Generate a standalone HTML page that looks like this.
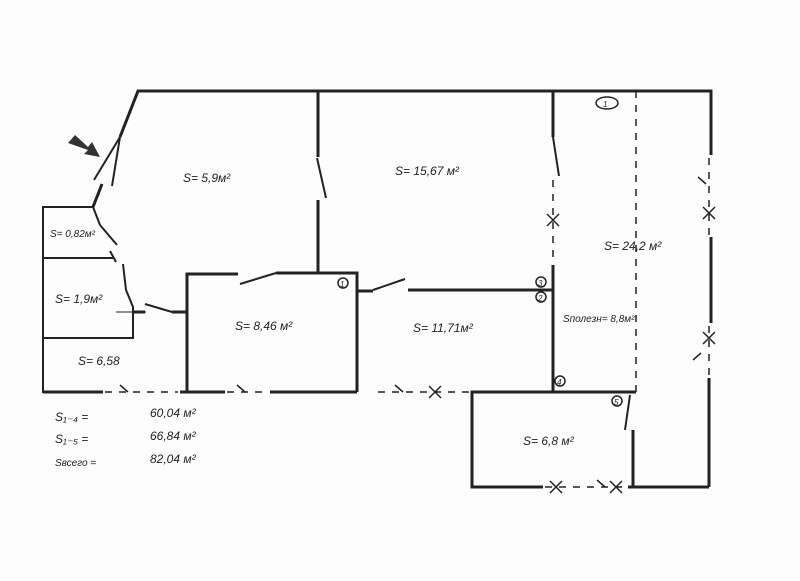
<!DOCTYPE html>
<html><head><meta charset="utf-8"><style>
html,body{margin:0;padding:0;background:#fff;}
svg{display:block}
text{font-family:"Liberation Sans",sans-serif;font-style:italic;fill:#222;}
</style></head><body>
<svg width="800" height="581" viewBox="0 0 800 581" xmlns="http://www.w3.org/2000/svg">
<rect width="800" height="581" fill="#fdfdfd"/>
<g stroke="#222" stroke-width="3" fill="none" stroke-linecap="butt">
<!-- top & outer -->
<polyline points="120,137 138,91 711,91 711,155"/>
<line x1="711" y1="237" x2="711" y2="323"/>
<line x1="709" y1="378" x2="709" y2="487"/>
<!-- entrance door -->
<line x1="120" y1="137" x2="94" y2="180" stroke-width="2"/>
<line x1="120" y1="137" x2="112" y2="186" stroke-width="2"/>
<line x1="102" y1="184" x2="93" y2="207"/>
<!-- left rooms -->
<polyline points="93,207 43,207 43,392 103,392" stroke-width="2"/>
<line x1="93" y1="207" x2="100" y2="225" stroke-width="2"/>
<line x1="100" y1="225" x2="117" y2="245" stroke-width="2"/>
<line x1="43" y1="258" x2="113" y2="258" stroke-width="2"/>
<line x1="110" y1="251" x2="116" y2="262" stroke-width="2"/>
<polyline points="123,264 126,290 133,307 133,338 43,338" stroke-width="2"/>
<line x1="116" y1="312" x2="146" y2="312" stroke-width="1"/>
<line x1="133" y1="312" x2="145" y2="312"/>
<line x1="145" y1="304" x2="172" y2="312" stroke-width="2"/>
<line x1="172" y1="312" x2="187" y2="312"/>
<!-- room 8.46 -->
<polyline points="238,274 187,274 187,392"/>
<line x1="240" y1="284" x2="276" y2="273" stroke-width="2"/>
<polyline points="276,273 357,273 357,392"/>
<line x1="318" y1="91" x2="318" y2="157"/>
<line x1="317" y1="158" x2="326" y2="198" stroke-width="2"/>
<line x1="318" y1="200" x2="318" y2="273"/>
<line x1="357" y1="291" x2="373" y2="291"/>
<line x1="373" y1="290" x2="405" y2="279" stroke-width="2"/>
<line x1="408" y1="290" x2="553" y2="290"/>
<!-- vertical 553 -->
<line x1="553" y1="91" x2="553" y2="137"/>
<line x1="553" y1="137" x2="559" y2="176" stroke-width="2"/>
<line x1="553" y1="265" x2="553" y2="392"/>
<!-- bottom -->
<line x1="43" y1="392" x2="103" y2="392"/>
<line x1="180" y1="392" x2="225" y2="392"/>
<line x1="270" y1="392" x2="357" y2="392"/>
<polyline points="636,392 472,392 472,487 543,487"/>
<line x1="628" y1="487" x2="709" y2="487"/>
<line x1="633" y1="430" x2="633" y2="487"/>
<line x1="630" y1="395" x2="625" y2="430" stroke-width="2"/>
</g>
<g stroke="#222" stroke-width="1.5" fill="none" stroke-dasharray="7,7">
<line x1="553" y1="180" x2="553" y2="263"/>
<line x1="636" y1="91" x2="636" y2="392"/>
<line x1="709" y1="158" x2="709" y2="235"/>
<line x1="709" y1="326" x2="709" y2="376"/>
<line x1="105" y1="392" x2="178" y2="392"/>
<line x1="227" y1="392" x2="268" y2="392"/>
<line x1="378" y1="392" x2="470" y2="392"/>
<line x1="545" y1="487" x2="626" y2="487"/>
</g>
<g stroke="#222" stroke-width="1.5" fill="none">
<path d="M547,214 l12,12 M559,214 l-12,12"/>
<path d="M703,207 l12,12 M715,207 l-12,12"/>
<path d="M703,332 l12,12 M715,332 l-12,12"/>
<path d="M429,386 l12,12 M441,386 l-12,12"/>
<path d="M550,481 l12,12 M562,481 l-12,12"/>
<path d="M610,481 l12,12 M622,481 l-12,12"/>
<path d="M120,385 l8,7 M237,385 l8,7 M395,385 l8,7 M597,480 l8,7 M698,177 l8,7 M693,360 l8,-7"/>
<ellipse cx="607" cy="103" rx="11" ry="6"/>
<circle cx="343" cy="283" r="5"/><circle cx="541" cy="282" r="5"/>
<circle cx="541" cy="297" r="5"/><circle cx="560" cy="381" r="5"/>
<circle cx="617" cy="401" r="5"/>
</g>
<polygon points="68,143 75,135 88,147 92,142 100,157 84,154 88,150" fill="#333"/>
<g font-size="12">
<text x="183" y="182">S= 5,9м²</text>
<text x="395" y="175">S= 15,67 м²</text>
<text x="604" y="250">S= 24,2 м²</text>
<text x="50" y="237" font-size="10">S= 0,82м²</text>
<text x="55" y="303">S= 1,9м²</text>
<text x="78" y="365">S= 6,58</text>
<text x="235" y="330">S= 8,46 м²</text>
<text x="413" y="332">S= 11,71м²</text>
<text x="563" y="322" font-size="10">Sполезн= 8,8м²</text>
<text x="523" y="445">S= 6,8 м²</text>
<text x="55" y="421">S₁₋₄ =</text>
<text x="55" y="443">S₁₋₅ =</text>
<text x="55" y="466" font-size="10">Sвсего =</text>
<text x="150" y="417">60,04 м²</text>
<text x="150" y="440">66,84 м²</text>
<text x="150" y="463">82,04 м²</text>
<text x="603" y="107" font-size="8" font-style="normal">1</text>
<text x="340" y="287" font-size="8">1</text>
<text x="538" y="286" font-size="8">3</text>
<text x="538" y="301" font-size="8">2</text>
<text x="557" y="385" font-size="8">4</text>
<text x="614" y="405" font-size="8">5</text>
</g>
</svg>
</body></html>
